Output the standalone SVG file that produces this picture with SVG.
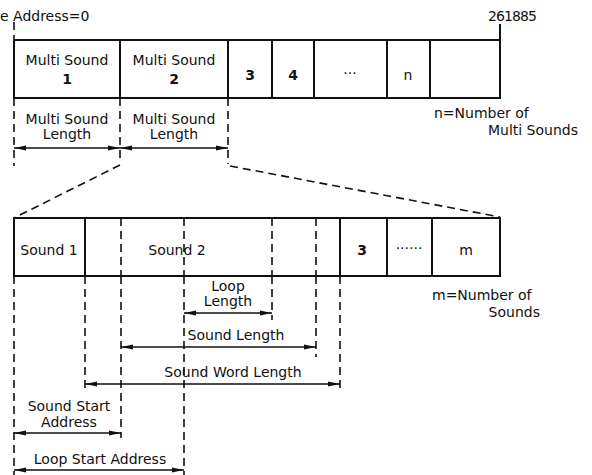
<svg xmlns="http://www.w3.org/2000/svg" width="592" height="475" viewBox="0 0 592 475">
<style>
text{font-family:"DejaVu Sans","Liberation Sans",Arial,sans-serif;font-size:14px;fill:#111}
.c{text-anchor:middle}
.b{font-weight:bold}
.box{fill:none;stroke:#111;stroke-width:2}
.sol{stroke:#111;stroke-width:2;fill:none}
.dash{stroke:#111;stroke-width:1.6;stroke-dasharray:8 5;fill:none}
.arr{stroke:#111;stroke-width:1.5;fill:none;marker-start:url(#a);marker-end:url(#a)}
</style>
<defs>
<marker id="a" viewBox="0 0 12 6" refX="12" refY="3" markerWidth="12" markerHeight="6" markerUnits="userSpaceOnUse" orient="auto-start-reverse">
<path d="M0,0.5 L12,3 L0,5.5 Z" fill="#111"/>
</marker>
</defs>
<rect width="592" height="475" fill="#fff"/>
<text x="0" y="21">e Address=0</text>
<text x="488" y="21" textLength="49">261885</text>

<g id="top-bar">
<rect class="box" x="14" y="40" width="486" height="58"/>
<line class="sol" x1="120" y1="40" x2="120" y2="98"/>
<line class="sol" x1="228" y1="40" x2="228" y2="98"/>
<line class="sol" x1="272" y1="40" x2="272" y2="98"/>
<line class="sol" x1="314" y1="40" x2="314" y2="98"/>
<line class="sol" x1="387" y1="40" x2="387" y2="98"/>
<line class="sol" x1="430" y1="40" x2="430" y2="98"/>
</g>
<g id="ms1"><text class="c" x="67" y="65">Multi Sound</text><text class="c b" x="67" y="84">1</text></g>
<g id="ms2"><text class="c" x="174" y="65">Multi Sound</text><text class="c b" x="174" y="84">2</text></g>
<g id="ms3"><text class="c b" x="250" y="80">3</text></g>
<g id="ms4"><text class="c b" x="293" y="80">4</text></g>
<g id="msdots"><text class="c" x="350" y="78" font-size="11">···</text></g>
<g id="msn"><text class="c" x="408" y="80">n</text></g>
<text x="434" y="118">n=Number of</text>
<text x="578" y="135" text-anchor="end">Multi Sounds</text>

<g id="bottom-bar">
<rect class="box" x="14" y="218" width="486" height="58"/>
<line class="sol" x1="85" y1="218" x2="85" y2="276"/>
<line class="sol" x1="340" y1="218" x2="340" y2="276"/>
<line class="sol" x1="387" y1="218" x2="387" y2="276"/>
<line class="sol" x1="432" y1="218" x2="432" y2="276"/>
</g>
<g id="s1"><text class="c" x="49" y="255">Sound 1</text></g>
<g id="s2"><text class="c" x="177" y="255">Sound 2</text></g>
<g id="s3"><text class="c b" x="362" y="255">3</text></g>
<g id="sdots"><text class="c" x="409" y="253" font-size="11">······</text></g>
<g id="sm"><text class="c" x="466" y="255">m</text></g>
<text x="432" y="300">m=Number of</text>
<text x="540" y="317" text-anchor="end">Sounds</text>

<g id="connectors">
<line class="dash" x1="14" y1="22" x2="14" y2="40"/>
<line class="sol" x1="500" y1="24" x2="500" y2="40" stroke-width="1.5"/>
<line class="dash" x1="14" y1="98" x2="14" y2="166"/>
<line class="dash" x1="120" y1="98" x2="120" y2="163"/>
<line class="dash" x1="228" y1="98" x2="228" y2="164"/>
<line class="dash" x1="120" y1="165" x2="14" y2="218"/>
<line class="dash" x1="230" y1="166" x2="500" y2="217"/>
<line class="arr" x1="14" y1="148" x2="120" y2="148"/>
<line class="arr" x1="120" y1="148" x2="228" y2="148"/>

<line class="dash" x1="121" y1="218" x2="121" y2="276"/>
<line class="dash" x1="184" y1="218" x2="184" y2="276"/>
<line class="dash" x1="272" y1="218" x2="272" y2="276"/>
<line class="dash" x1="316" y1="218" x2="316" y2="276"/>

<line class="dash" x1="14" y1="276" x2="14" y2="475"/>
<line class="dash" x1="85" y1="276" x2="85" y2="391"/>
<line class="dash" x1="121" y1="276" x2="121" y2="438"/>
<line class="dash" x1="184" y1="276" x2="184" y2="475"/>
<line class="dash" x1="272" y1="276" x2="272" y2="320"/>
<line class="dash" x1="316" y1="276" x2="316" y2="357"/>
<line class="dash" x1="340" y1="276" x2="340" y2="392"/>

<line class="arr" x1="184" y1="313" x2="272" y2="313"/>
<line class="arr" x1="121" y1="347" x2="316" y2="347"/>
<line class="arr" x1="85" y1="384" x2="340" y2="384"/>
<line class="arr" x1="14" y1="433" x2="121" y2="433"/>
<line class="arr" x1="14" y1="470" x2="184" y2="470"/>
</g>

<text class="c" x="67" y="124">Multi Sound</text>
<text class="c" x="67" y="139">Length</text>
<text class="c" x="174" y="124">Multi Sound</text>
<text class="c" x="174" y="139">Length</text>
<text class="c" x="228" y="291">Loop</text>
<text class="c" x="228" y="306">Length</text>
<text class="c" x="236" y="340">Sound Length</text>
<text class="c" x="233" y="377">Sound Word Length</text>
<text class="c" x="69" y="411">Sound Start</text>
<text class="c" x="69" y="427">Address</text>
<text class="c" x="100" y="464">Loop Start Address</text>
</svg>
